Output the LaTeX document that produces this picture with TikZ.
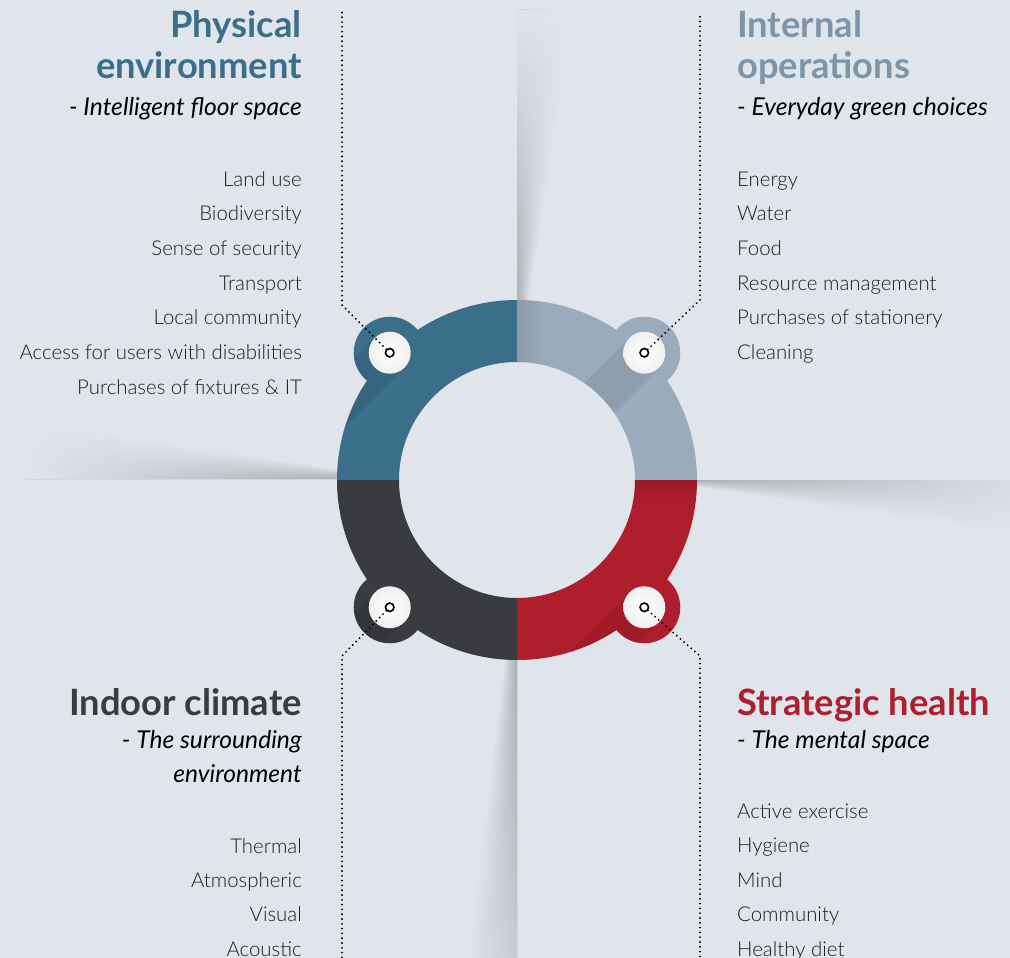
\documentclass[tikz,border=0pt]{standalone}
\usepackage{fontspec}
\setmainfont{Lato}
\newfontfamily\lightfont{Lato Light}
\usetikzlibrary{fadings}
\definecolor{bgc}{HTML}{E0E5EC}
\definecolor{cblue}{HTML}{3B6E88}
\definecolor{cgray}{HTML}{9AABBB}
\definecolor{cdark}{HTML}{3A3B3E}
\definecolor{cred}{HTML}{AF1E2D}
\definecolor{hgray}{HTML}{7E94A9}
\definecolor{itemc}{HTML}{1C1C1C}
\tikzfading[name=ovtop, top color=transparent!0, bottom color=transparent!100]
\tikzfading[name=ovbottom, top color=transparent!100, bottom color=transparent!45]
\tikzfading[name=ovleft, left color=transparent!0, right color=transparent!100]
\tikzfading[name=ovright, left color=transparent!100, right color=transparent!15]
\tikzfading[name=fadedown, top color=transparent!0, bottom color=transparent!100]
\tikzfading[name=faderight, left color=transparent!0, right color=transparent!100]
\newcommand\quadpath[1]{(#1:180) arc[start angle=#1,end angle=#1+90,radius=180] -- (#1+90:118) arc[start angle=#1+90,end angle=#1,radius=118] -- cycle (#1+45:180) circle[radius=36]}
\newcommand\quadrant[2]{%
  \fill[#2] \quadpath{#1};
  \begin{scope}
    \clip \quadpath{#1};
    \begin{scope}[shift={(#1+45:180)}]
      \fill[black,opacity=.07] (45:21) -- (225:21) -- ++(135:95) -- ++(45:42) -- cycle;
    \end{scope}
  \end{scope}}
\begin{document}
\begin{tikzpicture}[x=1pt,y=-1pt,
  head/.style={inner sep=0pt,font=\bfseries\fontsize{36.3}{40}\selectfont},
  sub/.style={inner sep=0pt,text=black,font=\itshape\fontsize{24.6}{28}\selectfont},
  item/.style={inner sep=0pt,text=itemc,font=\lightfont\fontsize{20.4}{25}\selectfont},
  disc/.style={circle,minimum size=42pt,inner sep=0pt,inner color=white,outer color=black!6},
  dots/.style={line width=2.1pt,line cap=round,dash pattern=on 0pt off 4.8pt,black},
  marker/.style={circle,draw=black,line width=1.6pt,fill=white,minimum size=8.5pt,inner sep=0pt},
  foldshade/.style={fill=black,opacity=.016}]
\useasboundingbox (0,0) rectangle (1010,958);
\fill[bgc] (0,0) rectangle (1010,958);
% fold shadows: layered soft wedges, then a background overlay fading along the fold
\foreach \k in {1,...,14}{
  \fill[foldshade] (517,10) -- ({517+56*\k/14},10) -- ({517+12*\k/14},300) -- (517,300) -- cycle;
  \fill[foldshade] (25,479) -- (25,{479-56*\k/14}) -- (337,{479-10*\k/14}) -- (337,479) -- cycle;
  \fill[foldshade] (697,480) -- (697,{480+7*\k/14}) -- (1010,{480+52*\k/14}) -- (1010,480) -- cycle;
  \fill[foldshade] (517,660) -- ({517-12*\k/14},660) -- ({517-48*\k/14},958) -- (517,958) -- cycle;
}
\fill[bgc,path fading=ovtop] (517,10) -- (573,10) -- (529,300) -- (517,300) -- cycle;
\fill[bgc,path fading=ovleft] (25,479) -- (25,423) -- (337,469) -- (337,479) -- cycle;
\fill[bgc,path fading=ovright] (697,480) -- (697,487) -- (1010,532) -- (1010,480) -- cycle;
\fill[bgc,path fading=ovbottom] (517,660) -- (505,660) -- (469,958) -- (517,958) -- cycle;
% ring
\begin{scope}[shift={(517,480)}]
  \quadrant{180}{cblue}
  \quadrant{270}{cgray}
  \quadrant{0}{cred}
  \quadrant{90}{cdark}
  \begin{scope}
    \clip \quadpath{270};
    \fill[black,opacity=.10,path fading=faderight] (0,-200) rectangle (26,0);
  \end{scope}
  \begin{scope}
    \clip \quadpath{0};
    \fill[black,opacity=.12,path fading=fadedown] (0,0) rectangle (200,24);
  \end{scope}
  \node[disc] (d1) at (225:180) {};
  \node[disc] (d2) at (315:180) {};
  \node[disc] (d3) at (135:180) {};
  \node[disc] (d4) at (45:180) {};
\end{scope}
% connectors
\coordinate (k1) at (342,305); \coordinate (t1) at (342,12);
\coordinate (k2) at (700,300); \coordinate (t2) at (700,12);
\coordinate (k3) at (342,656); \coordinate (t3) at (342,958);
\coordinate (k4) at (700,656); \coordinate (t4) at (700,958);
\draw[dots] (d1.center) -- (k1) -- (t1);
\draw[dots] (d2.center) -- (k2) -- (t2);
\draw[dots] (d3.center) -- (k3) -- (t3);
\draw[dots] (d4.center) -- (k4) -- (t4);
\node[marker] (m1) at (d1.center) {};
\node[marker] (m2) at (d2.center) {};
\node[marker] (m3) at (d3.center) {};
\node[marker] (m4) at (d4.center) {};
% texts: physical environment
\node[head,text=cblue,anchor=base east] (h1a) at (302,38) {Physical};
\node[head,text=cblue,anchor=base east] (h1b) at (302,79) {environment};
\node[sub,anchor=base east] (s1) at (302,115) {- Intelligent floor space};
\foreach \t [count=\i] in {Land use,Biodiversity,Sense of security,Transport,Local community,Access for users with disabilities,Purchases of fixtures \& IT}
  \node[item,anchor=base east] (pa\i) at (302,{186+34.7*(\i-1)}) {\t};
% internal operations
\node[head,text=hgray,anchor=base west] (h2a) at (737,38) {Internal};
\node[head,text=hgray,anchor=base west] (h2b) at (737,79) {operations};
\node[sub,anchor=base west] (s2) at (737,115) {- Everyday green choices};
\foreach \t [count=\i] in {Energy,Water,Food,Resource management,Purchases of stationery,Cleaning}
  \node[item,anchor=base west] (io\i) at (737,{186+34.7*(\i-1)}) {\t};
% indoor climate
\node[head,text=cdark,anchor=base east] (h3) at (302,715) {Indoor climate};
\node[sub,anchor=base east] (s3a) at (302,748) {- The surrounding};
\node[sub,anchor=base east] (s3b) at (302,782) {environment};
\foreach \t [count=\i] in {Thermal,Atmospheric,Visual,Acoustic}
  \node[item,anchor=base east] (ic\i) at (302,{853+34.4*(\i-1)}) {\t};
% strategic health
\node[head,text=cred,anchor=base west] (h4) at (737,715) {Strategic health};
\node[sub,anchor=base west] (s4) at (737,748) {- The mental space};
\foreach \t [count=\i] in {Active exercise,Hygiene,Mind,Community,Healthy diet}
  \node[item,anchor=base west] (sh\i) at (737,{818+34.5*(\i-1)}) {\t};
\end{tikzpicture}
\end{document}
